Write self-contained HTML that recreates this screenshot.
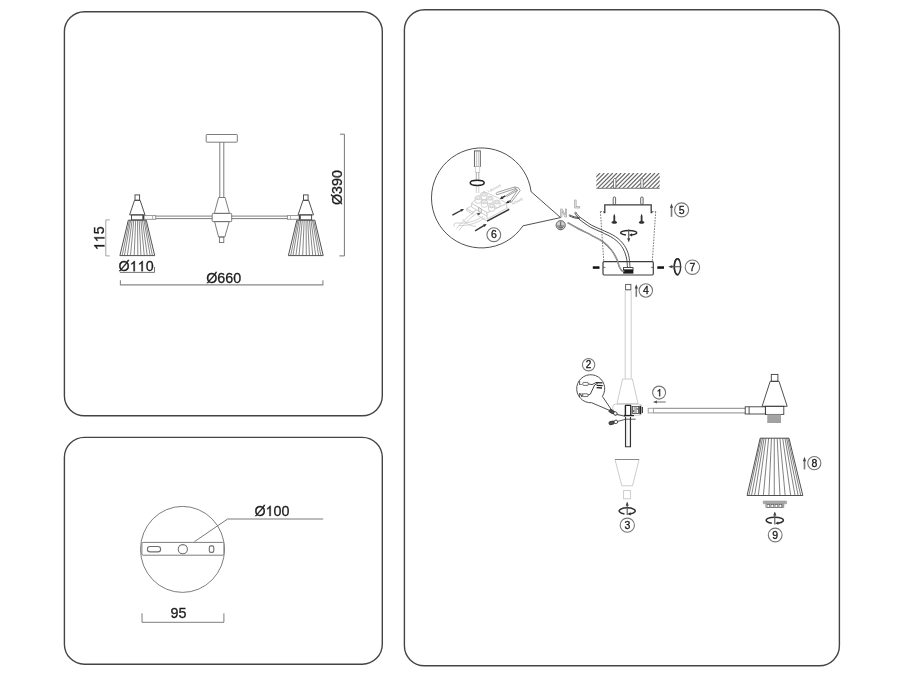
<!DOCTYPE html>
<html><head><meta charset="utf-8"><title>Assembly diagram</title>
<style>
html,body{margin:0;padding:0;background:#fff;}
body{width:900px;height:675px;overflow:hidden;font-family:"Liberation Sans",sans-serif;}
svg{display:block;}
</style></head><body>
<svg style="filter:grayscale(1)" width="900" height="675" viewBox="0 0 900 675">
<rect width="900" height="675" fill="#fff"/>
<!-- boxes -->
<g fill="none" stroke="#444" stroke-width="1.4">
<rect x="64.4" y="11.7" width="317.9" height="404.1" rx="20" ry="20"/>
<rect x="64.4" y="437.4" width="317.9" height="226.8" rx="20" ry="20"/>
<rect x="404.4" y="9.8" width="435" height="656" rx="20" ry="20"/>
</g>
<g fill="none" stroke="#6e6e6e" stroke-width="0.9">
<rect x="206.2" y="134.5" width="31.1" height="7.7" rx="0.6"/>
<path d="M219.8,142.2 V197.4 M223.8,142.2 V197.4"/>
<path d="M218.6,197.5 L225.1,197.5 L229.2,212.4 L229.2,213.4 L214.6,213.4 L214.6,212.4 Z"/>
<rect x="212.2" y="213.4" width="19.5" height="8.2" rx="0.8"/>
<path d="M214.6,221.6 L229.2,221.6 L224.8,237 L218.6,237 Z"/>
<rect x="219.4" y="237" width="4.4" height="5.5"/>
<path d="M155.7,216.1 H212.2 M155.7,218.6 H212.2 M231.7,216.1 H287.4 M231.7,218.6 H287.4"/>
<rect x="144" y="215.6" width="11.7" height="3.7" stroke="#8a8a8a"/><path d="M152.6,215.6 V219.3" stroke="#aaa"/>
<rect x="287.4" y="215.6" width="11.7" height="3.7" stroke="#8a8a8a"/><path d="M290.5,215.6 V219.3" stroke="#aaa"/>
<rect x="142.6" y="215.2" width="1.5" height="4.4" fill="#333" stroke="none"/><rect x="299" y="215.2" width="1.5" height="4.4" fill="#333" stroke="none"/>
</g>
<g transform="translate(137.3,0)" fill="none" stroke="#484848" stroke-width="0.95"><rect x="-2.3" y="194.9" width="4.6" height="5.4"/><path d="M-2.8,200.3 L2.8,200.3 L7.7,214.9 L-7.7,214.9 Z"/><rect x="-5.8" y="214.9" width="11.6" height="5"/><path d="M-9,220.2 L9,220.2 L17.4,255.6 L-17.4,255.6 Z"/><g stroke-width="0.7" stroke="#555"><path d="M-7.83,220.2 L-15.14,255.6"/><path d="M-6.66,220.2 L-12.88,255.6"/><path d="M-5.13,220.2 L-9.92,255.6"/><path d="M-3.51,220.2 L-6.79,255.6"/><path d="M-1.62,220.2 L-3.13,255.6"/><path d="M0.27,220.2 L0.52,255.6"/><path d="M1.89,220.2 L3.65,255.6"/><path d="M3.60,220.2 L6.96,255.6"/><path d="M5.13,220.2 L9.92,255.6"/><path d="M6.66,220.2 L12.88,255.6"/><path d="M7.83,220.2 L15.14,255.6"/></g></g>
<g transform="translate(305.8,0)" fill="none" stroke="#484848" stroke-width="0.95"><rect x="-2.3" y="194.9" width="4.6" height="5.4"/><path d="M-2.8,200.3 L2.8,200.3 L7.7,214.9 L-7.7,214.9 Z"/><rect x="-5.8" y="214.9" width="11.6" height="5"/><path d="M-9,220.2 L9,220.2 L17.4,255.6 L-17.4,255.6 Z"/><g stroke-width="0.7" stroke="#555"><path d="M-7.83,220.2 L-15.14,255.6"/><path d="M-6.66,220.2 L-12.88,255.6"/><path d="M-5.13,220.2 L-9.92,255.6"/><path d="M-3.51,220.2 L-6.79,255.6"/><path d="M-1.62,220.2 L-3.13,255.6"/><path d="M0.27,220.2 L0.52,255.6"/><path d="M1.89,220.2 L3.65,255.6"/><path d="M3.60,220.2 L6.96,255.6"/><path d="M5.13,220.2 L9.92,255.6"/><path d="M6.66,220.2 L12.88,255.6"/><path d="M7.83,220.2 L15.14,255.6"/></g></g>
<g fill="none" stroke="#666" stroke-width="0.9">
<path d="M340,134.2 H344.4 V255.9 H339.4"/>
<path d="M109.8,219.9 H105.8 V255.9 H109.8" stroke="#9a9a9a"/>
<path d="M119.9,272.4 H154.5 V267"/>
<path d="M120.4,280.2 V284.9 H322.9 V280.2" stroke="#888" stroke-width="1.1"/>
</g>
<g font-family="'Liberation Sans', sans-serif" font-size="14.3px" fill="#1c1c1c" stroke="#1c1c1c" stroke-width="0.3">
<text x="118.6" y="271.2">Ø</text>
<path transform="translate(129.73,271.20) rotate(0) scale(14.3)" d="M0.355,0 L0.267,0 L0.267,-0.56 C0.23,-0.525 0.17,-0.485 0.109,-0.46 L0.109,-0.545 C0.19,-0.585 0.27,-0.65 0.298,-0.716 L0.355,-0.716 Z" fill="#1c1c1c" stroke="#1c1c1c" stroke-width="0.0210"/>
<path transform="translate(137.68,271.20) rotate(0) scale(14.3)" d="M0.355,0 L0.267,0 L0.267,-0.56 C0.23,-0.525 0.17,-0.485 0.109,-0.46 L0.109,-0.545 C0.19,-0.585 0.27,-0.65 0.298,-0.716 L0.355,-0.716 Z" fill="#1c1c1c" stroke="#1c1c1c" stroke-width="0.0210"/>
<text x="145.63" y="271.2">0</text>
<text x="206.2" y="283">Ø660</text>
<text transform="translate(342,205) rotate(-90)">Ø390</text>
<path transform="translate(104.40,250.20) rotate(-90) scale(14.3)" d="M0.355,0 L0.267,0 L0.267,-0.56 C0.23,-0.525 0.17,-0.485 0.109,-0.46 L0.109,-0.545 C0.19,-0.585 0.27,-0.65 0.298,-0.716 L0.355,-0.716 Z" fill="#1c1c1c" stroke="#1c1c1c" stroke-width="0.0210"/>
<path transform="translate(104.40,242.25) rotate(-90) scale(14.3)" d="M0.355,0 L0.267,0 L0.267,-0.56 C0.23,-0.525 0.17,-0.485 0.109,-0.46 L0.109,-0.545 C0.19,-0.585 0.27,-0.65 0.298,-0.716 L0.355,-0.716 Z" fill="#1c1c1c" stroke="#1c1c1c" stroke-width="0.0210"/>
<text transform="translate(104.4,234.30) rotate(-90)">5</text>
<text x="254.5" y="516">Ø</text>
<path transform="translate(265.63,516.00) rotate(0) scale(14.3)" d="M0.355,0 L0.267,0 L0.267,-0.56 C0.23,-0.525 0.17,-0.485 0.109,-0.46 L0.109,-0.545 C0.19,-0.585 0.27,-0.65 0.298,-0.716 L0.355,-0.716 Z" fill="#1c1c1c" stroke="#1c1c1c" stroke-width="0.0210"/>
<text x="273.58" y="516">00</text>
<text x="170.6" y="618">95</text>
</g>
<g fill="none" stroke="#6e6e6e" stroke-width="0.9">
<ellipse cx="182.5" cy="549.4" rx="42" ry="43"/>
<rect x="141.9" y="542.4" width="82" height="12.8" rx="1.2" fill="#fff"/>
<rect x="147.4" y="546.5" width="13.2" height="5.4" rx="2.7" stroke-width="1.1"/>
<circle cx="182.8" cy="549.2" r="4.6" stroke-width="1.05"/>
<rect x="209.3" y="545.9" width="4.5" height="6.5" rx="1.7" stroke-width="1.1"/>
<path d="M194.4,541.7 L227.6,519 H323.2" stroke="#7a7a7a" stroke-width="1"/>
<path d="M142,613.3 V622.3 H223.9 V613.3"/>
</g>
<g>
<clipPath id="hc"><rect x="596.3" y="173" width="63.4" height="15.3"/></clipPath>
<g clip-path="url(#hc)" stroke="#666" stroke-width="1.15"><path d="M580.6,188.3 l15.3,-15.3"/><path d="M584.8,188.3 l15.3,-15.3"/><path d="M589.0,188.3 l15.3,-15.3"/><path d="M593.3,188.3 l15.3,-15.3"/><path d="M597.5,188.3 l15.3,-15.3"/><path d="M601.7,188.3 l15.3,-15.3"/><path d="M605.9,188.3 l15.3,-15.3"/><path d="M610.1,188.3 l15.3,-15.3"/><path d="M614.4,188.3 l15.3,-15.3"/><path d="M618.6,188.3 l15.3,-15.3"/><path d="M622.8,188.3 l15.3,-15.3"/><path d="M627.0,188.3 l15.3,-15.3"/><path d="M631.2,188.3 l15.3,-15.3"/><path d="M635.5,188.3 l15.3,-15.3"/><path d="M639.7,188.3 l15.3,-15.3"/><path d="M643.9,188.3 l15.3,-15.3"/><path d="M648.1,188.3 l15.3,-15.3"/><path d="M652.3,188.3 l15.3,-15.3"/><path d="M656.6,188.3 l15.3,-15.3"/><path d="M660.8,188.3 l15.3,-15.3"/><path d="M665.0,188.3 l15.3,-15.3"/><path d="M669.2,188.3 l15.3,-15.3"/></g>
<path d="M613.5,188.3 V179.4 L614.7,178.2 L615.9,179.4 V188.3 Z" fill="#fff" stroke="#555" stroke-width="0.7"/>
<path d="M640.8,188.3 V179.4 L642,178.2 L643.2,179.4 V188.3 Z" fill="#fff" stroke="#555" stroke-width="0.7"/>
<path d="M596.3,188.3 H659.7" stroke="#777" stroke-width="1"/>
</g>
<rect x="613.2" y="197" width="2.4" height="7.4" rx="1" fill="#fff" stroke="#3c3c3c" stroke-width="0.8"/>
<rect x="640.7" y="197" width="2.4" height="7.4" rx="1" fill="#fff" stroke="#3c3c3c" stroke-width="0.8"/>
<path d="M603.6,212.5 H604.8 V204.8 H651.2 V212.5 H652.4" fill="none" stroke="#3c3c3c" stroke-width="1.3"/>
<path d="M600.4,211.6 L603.8,261.5 M655.7,211.6 L652.3,261.5 M600.4,211.6 H604 M652,211.6 H655.7" fill="none" stroke="#555" stroke-width="0.8" stroke-dasharray="1.6,1.2"/>
<path d="M614.3,213.8 L615.1999999999999,216 L615.1999999999999,220.8 L617.0,222 L617.0,222.9 L615.5,223.7 L613.0999999999999,223.7 L611.5999999999999,222.9 L611.5999999999999,222 L613.4,220.8 L613.4,216 Z" fill="#333"/>
<path d="M641.6,213.8 L642.5,216 L642.5,220.8 L644.3000000000001,222 L644.3000000000001,222.9 L642.8000000000001,223.7 L640.4,223.7 L638.9,222.9 L638.9,222 L640.7,220.8 L640.7,216 Z" fill="#333"/>
<path d="M625.96,235.06 A8,2.4 0 1 1 631.44,235.06" fill="none" stroke="#2e2e2e" stroke-width="1.5"/><path d="M628.84,235.06 L632.04,233.36 L632.04,236.56 Z" fill="#2e2e2e"/><path d="M628.7,229.4 V241.4" stroke="#555" stroke-width="1.1"/><path d="M628.7,242.0 L627.1,238.20000000000002 L630.3000000000001,238.20000000000002 Z" fill="#444"/>
<rect x="603" y="261.6" width="50.3" height="13.4" rx="1.2" fill="none" stroke="#3c3c3c" stroke-width="1.2"/>
<path d="M603,267.4 H605.4 M650.9,267.4 H653.3" stroke="#555" stroke-width="0.8"/>
<rect x="592.8" y="266.3" width="6.7" height="2.5" fill="#111"/>
<rect x="657.3" y="266.3" width="6.7" height="2.5" fill="#111"/>
<rect x="623.6" y="267.6" width="9.4" height="2.2" fill="#fff" stroke="#222" stroke-width="0.8"/>
<rect x="623.2" y="269.8" width="10.2" height="3.8" fill="#1a1a1a"/>
<g fill="none" stroke="#3c3c3c" stroke-width="0.9">
<path d="M580.2,217.4 C582.1,218.7 587.8,223.0 591.6,225.2 C595.4,227.3 598.9,228.4 602.9,230.3 C606.9,232.2 611.9,234.1 615.5,236.6 C619.1,239.1 622.1,242.2 624.3,245.4 C626.5,248.6 627.8,251.8 628.7,255.5 C629.7,259.2 629.8,265.6 630.0,267.6"/><path d="M579.0,219.2 C580.9,220.5 586.5,224.9 590.3,227.1 C594.1,229.3 597.7,230.3 601.6,232.2 C605.5,234.1 610.2,236.1 613.6,238.5 C617.0,240.9 619.7,243.6 621.8,246.6 C623.9,249.6 625.2,253.2 626.2,256.7 C627.2,260.2 627.3,265.8 627.5,267.6"/>
<path d="M575.6,211.8 C576.4,213.6 578,215.6 580.2,217.4 M574.6,212.6 C575.6,214.6 577,216.8 579.4,218.4"/>
<path d="M568.8,215.6 C572,217.4 576,218.6 579.4,218.6 M569.4,214.8 C572.4,216.4 576,217.4 579.6,217.6"/>
<path d="M567.6,222.7 C569.5,223.8 575.0,226.9 579.0,229.0 C583.0,231.1 587.6,233.2 591.6,235.3 C595.6,237.4 599.5,239.1 602.9,241.6 C606.2,244.1 609.4,247.5 611.7,250.4 C614.0,253.3 615.5,256.5 616.8,259.2 C618.1,261.9 618.5,264.9 619.3,266.8 C620.1,268.7 621.0,269.9 621.8,270.6 C622.6,271.3 623.9,271.1 624.3,271.2" stroke-width="1.5" stroke="#666"/>
<path d="M567.6,222.7 C569.5,223.8 575.0,226.9 579.0,229.0 C583.0,231.1 587.6,233.2 591.6,235.3 C595.6,237.4 599.5,239.1 602.9,241.6 C606.2,244.1 609.4,247.5 611.7,250.4 C614.0,253.3 615.5,256.5 616.8,259.2 C618.1,261.9 618.5,264.9 619.3,266.8 C620.1,268.7 621.0,269.9 621.8,270.6 C622.6,271.3 623.9,271.1 624.3,271.2" stroke-width="0.5" stroke="#ddd"/>
</g>
<text x="574" y="208.2" font-family="'Liberation Sans', sans-serif" font-size="10px" font-weight="bold" fill="#e8e8e8" stroke="#8a8a8a" stroke-width="0.5">L</text>
<text x="560" y="217" font-family="'Liberation Sans', sans-serif" font-size="10px" font-weight="bold" fill="#e8e8e8" stroke="#8a8a8a" stroke-width="0.5">N</text>
<circle cx="560.7" cy="225.2" r="4.6" fill="#d0d0d0" stroke="#666" stroke-width="1"/>
<path d="M560.7,221.4 V226 M557.2,226 H564.2 M558.4,227.6 H563 M559.6,229 H561.8" stroke="#555" stroke-width="0.9" fill="none"/>
<path d="M671.5,216.8 V206.9" stroke="#7a7a7a" stroke-width="1.6" fill="none"/><path d="M671.5,203.4 L669.9,207.8 L673.1,207.8 Z" fill="#444"/>
<circle cx="681.6" cy="209.9" r="7" fill="#fff" stroke="#777" stroke-width="1.1"/><text x="681.6" y="213.68" text-anchor="middle" font-family="'Liberation Sans', sans-serif" font-size="10.5px" fill="#1a1a1a" stroke="#1a1a1a" stroke-width="0.3">5</text>
<path d="M678.4,274.4 A3.2,8 0 1 1 679.6,260.6" fill="none" stroke="#2e2e2e" stroke-width="1.5" transform="rotate(0)"/>
<ellipse cx="677.4" cy="266.7" rx="3.2" ry="8" fill="none" stroke="#2e2e2e" stroke-width="1.4"/>
<path d="M671.5,266.7 H681.4" stroke="#555" stroke-width="1.1"/><path d="M668.2,266.7 L672.4,265.1 L672.4,268.3 Z" fill="#444"/>
<circle cx="692.4" cy="267.2" r="7.2" fill="#fff" stroke="#777" stroke-width="1.1"/><text x="692.4" y="270.98" text-anchor="middle" font-family="'Liberation Sans', sans-serif" font-size="10.5px" fill="#1a1a1a" stroke="#1a1a1a" stroke-width="0.3">7</text>
<rect x="625.6" y="284.4" width="5.3" height="5.3" fill="none" stroke="#555" stroke-width="0.9"/>
<path d="M625.2,290.6 V378.4 M631.2,290.6 V378.4 M625.2,290.6 H631.2" fill="none" stroke="#c6c6c6" stroke-width="0.9"/>
<path d="M636.3,296.8 V287.7" stroke="#7a7a7a" stroke-width="1.6" fill="none"/><path d="M636.3,284.2 L634.6999999999999,288.59999999999997 L637.9,288.59999999999997 Z" fill="#444"/>
<circle cx="645.8" cy="290.5" r="6.7" fill="#fff" stroke="#777" stroke-width="1.1"/><text x="645.8" y="294.28" text-anchor="middle" font-family="'Liberation Sans', sans-serif" font-size="10.5px" fill="#1a1a1a" stroke="#1a1a1a" stroke-width="0.3">4</text>
<g fill="none" stroke="#c6c6c6" stroke-width="0.9">
<path d="M622.6,379 H632.4 L638,403.6 H617 Z"/>
<rect x="612.9" y="404.2" width="29" height="11" rx="2.5"/>
</g>
<g fill="none" stroke="#222" stroke-width="1">
<path d="M625,405.4 H631 M625.4,405.4 V416 M630.8,405.4 V416" stroke-width="1.4"/>
<rect x="632.4" y="406.4" width="6.2" height="7" stroke-width="0.8" stroke="#444"/>
<path d="M633.6,408 h3.6 v2 h-3.6 v2 h3.6" stroke-width="0.8" stroke="#444"/>
<path d="M640.2,405.8 V414.2" stroke-width="1.8"/><path d="M642.3,407 V413" stroke-width="1.1"/>
<path d="M624,415.6 H634" stroke-width="1.3"/>
</g>
<path d="M625.5,417 V446.7 H630.5 V417" fill="none" stroke="#333" stroke-width="1.1"/><path d="M626.9,419 V446 M629.5,419 V446" fill="none" stroke="#c4c4c4" stroke-width="0.6"/>
<g stroke="#222" stroke-width="0.8">
<g transform="translate(613.3,412.4) rotate(28)"><rect x="-4.4" y="-1.5" width="5" height="3" rx="1" fill="#555"/><rect x="0.6" y="-1.6" width="3.4" height="3.2" rx="1.2" fill="#fff"/></g>
<g transform="translate(613.6,422.4) rotate(-14)"><rect x="-4.6" y="-1.5" width="5.2" height="3" rx="1" fill="#555"/><rect x="0.6" y="-1.6" width="3.4" height="3.2" rx="1.2" fill="#fff"/></g>
<path d="M617,414.4 L625.4,416.4 M617.6,421.4 L625.8,419.2 H635.6" fill="none" stroke="#333" stroke-width="0.8"/>
</g>
<path d="M602.4,396.4 A14,14 0 1 0 591.6,402.7 L612.8,411.8 Z" fill="none" stroke="#3c3c3c" stroke-width="0.9"/>
<circle cx="588.6" cy="364.7" r="6.2" fill="#fff" stroke="#777" stroke-width="1.1"/><text x="588.6" y="368.30" text-anchor="middle" font-family="'Liberation Sans', sans-serif" font-size="10px" fill="#1a1a1a" stroke="#1a1a1a" stroke-width="0.3">2</text>
<text x="579" y="384.9" font-family="'Liberation Sans', sans-serif" font-size="5.2px" font-weight="bold" fill="#222">L</text>
<text x="579" y="396.8" font-family="'Liberation Sans', sans-serif" font-size="5.2px" font-weight="bold" fill="#222">N</text>
<g fill="none" stroke="#333" stroke-width="0.7">
<rect x="582.8" y="382.4" width="5.4" height="3" rx="0.8"/><rect x="582.8" y="393.8" width="5.2" height="2.8" rx="0.8"/>
<path d="M588.2,383.9 L592,384.6 L596,382.6 M588,395.2 L590.4,394 L594.6,385 L597.6,383.4" stroke-width="0.9"/>
<path d="M596,382.6 L602.4,382.8 M596.6,385.4 L602.6,385.6 M596.6,387.6 L602,388" stroke="#222" stroke-width="1.3"/>
</g>
<circle cx="659.1" cy="392.6" r="6.5" fill="#fff" stroke="#777" stroke-width="1.1"/><path transform="translate(656.60,396.20) scale(10)" d="M0.355,0 L0.267,0 L0.267,-0.56 C0.23,-0.525 0.17,-0.485 0.109,-0.46 L0.109,-0.545 C0.19,-0.585 0.27,-0.65 0.298,-0.716 L0.355,-0.716 Z" fill="#1a1a1a" stroke="#1a1a1a" stroke-width="0.0300"/>
<path d="M655,402 H665.7" stroke="#888" stroke-width="1.2"/><path d="M652.8,402 L657,400.5 L657,403.5 Z" fill="#555"/>
<path d="M653.3,408.3 H745.2" stroke="#777" stroke-width="0.9" fill="none"/>
<path d="M653.3,412.9 H745.2" stroke="#a2a2a2" stroke-width="1.1" fill="none"/>
<rect x="648.2" y="408.3" width="5.2" height="4.6" fill="none" stroke="#999" stroke-width="0.9"/>
<g fill="none" stroke="#3c3c3c" stroke-width="0.9">
<rect x="745.2" y="406.8" width="20.2" height="7.2"/><path d="M749.1,406.8 V414"/>
<rect x="771.3" y="374.4" width="6.6" height="6.9"/>
<path d="M770.2,381.3 H779 L787.2,406.3 H762.1 Z"/>
<rect x="765.4" y="406.3" width="18.4" height="8.1"/>
</g>
<rect x="767.3" y="414.6" width="13.7" height="8.4" fill="#d4d4d4"/><g stroke="#777" stroke-width="0.55"><path d="M767.3,414.90 H781"/><path d="M767.3,415.85 H781"/><path d="M767.3,416.80 H781"/><path d="M767.3,417.75 H781"/><path d="M767.3,418.70 H781"/><path d="M767.3,419.65 H781"/><path d="M767.3,420.60 H781"/><path d="M767.3,421.55 H781"/><path d="M767.3,422.50 H781"/></g>
<g fill="none" stroke="#3c3c3c" stroke-width="0.9"><path d="M760.2,438.2 H789 L802.8,495.5 H747.1 Z"/><g stroke-width="0.7" stroke="#4a4a4a"><path d="M761.14,438.2 L748.91,495.3"/><path d="M762.50,438.2 L751.56,495.3"/><path d="M764.09,438.2 L754.62,495.3"/><path d="M765.96,438.2 L758.24,495.3"/><path d="M768.62,438.2 L763.39,495.3"/><path d="M771.46,438.2 L768.88,495.3"/><path d="M774.25,438.2 L774.28,495.3"/><path d="M777.19,438.2 L779.96,495.3"/><path d="M779.88,438.2 L785.17,495.3"/><path d="M782.72,438.2 L790.66,495.3"/><path d="M784.97,438.2 L795.00,495.3"/><path d="M786.58,438.2 L798.12,495.3"/><path d="M787.92,438.2 L800.71,495.3"/></g></g>
<path d="M804.5,469.4 V460.3" stroke="#7a7a7a" stroke-width="1.6" fill="none"/><path d="M804.5,456.8 L802.9,461.2 L806.1,461.2 Z" fill="#444"/>
<circle cx="814.3" cy="463.1" r="6.6" fill="#fff" stroke="#777" stroke-width="1.1"/><text x="814.3" y="466.88" text-anchor="middle" font-family="'Liberation Sans', sans-serif" font-size="10.5px" fill="#1a1a1a" stroke="#1a1a1a" stroke-width="0.3">8</text>
<rect x="763.1" y="501" width="23.6" height="2.8" rx="0.8" fill="#aaa" stroke="#888" stroke-width="0.5"/>
<rect x="765.8" y="503.8" width="18.1" height="3.8" fill="#e6e6e6" stroke="#888" stroke-width="0.6"/>
<rect x="767" y="504.4" width="2.8" height="2.9" fill="#fff" stroke="#555" stroke-width="0.7"/>
<rect x="771" y="504.4" width="2.8" height="2.9" fill="#fff" stroke="#555" stroke-width="0.7"/>
<rect x="775" y="504.4" width="2.8" height="2.9" fill="#fff" stroke="#555" stroke-width="0.7"/>
<rect x="779" y="504.4" width="2.8" height="2.9" fill="#fff" stroke="#555" stroke-width="0.7"/>
<path d="M782.9,504.2 V507.4" stroke="#555" stroke-width="0.8"/>
<path d="M771.86,523.21 A8.6,3.1 0 1 1 777.74,523.21" fill="none" stroke="#2e2e2e" stroke-width="1.5"/><path d="M775.14,523.21 L778.34,521.51 L778.34,524.71 Z" fill="#2e2e2e"/><path d="M774.8,512.4 V524.4" stroke="#555" stroke-width="1.1"/><path d="M774.8,511.79999999999995 L773.1999999999999,515.6 L776.4,515.6 Z" fill="#444"/>
<circle cx="775.2" cy="535" r="6.9" fill="#fff" stroke="#777" stroke-width="1.1"/><text x="775.2" y="538.78" text-anchor="middle" font-family="'Liberation Sans', sans-serif" font-size="10.5px" fill="#1a1a1a" stroke="#1a1a1a" stroke-width="0.3">9</text>
<path d="M615,459.5 L621.8,485.8 H632.5 L639.1,459.5" fill="none" stroke="#c6c6c6" stroke-width="0.9"/>
<path d="M615,459.5 H639.1" stroke="#888" stroke-width="1"/>
<rect x="623.6" y="490.6" width="6.8" height="8.2" fill="none" stroke="#c6c6c6" stroke-width="0.9"/>
<path d="M624.46,514.01 A8,3.2 0 1 1 629.94,514.01" fill="none" stroke="#2e2e2e" stroke-width="1.5"/><path d="M627.34,514.01 L630.54,512.31 L630.54,515.51 Z" fill="#2e2e2e"/><path d="M627.2,502.6 V515" stroke="#555" stroke-width="1.1"/><path d="M627.2,502.0 L625.6,505.8 L628.8000000000001,505.8 Z" fill="#444"/>
<circle cx="627.3" cy="525.2" r="7.1" fill="#fff" stroke="#777" stroke-width="1.1"/><text x="627.3" y="528.98" text-anchor="middle" font-family="'Liberation Sans', sans-serif" font-size="10.5px" fill="#1a1a1a" stroke="#1a1a1a" stroke-width="0.3">3</text>
<path d="M531.1,191.7 A50,50 0 1 0 523.0,225.8 L560.6,217.6 Z" fill="none" stroke="#3c3c3c" stroke-width="0.9"/>
<circle cx="493.8" cy="234.7" r="6.9" fill="#fff" stroke="#777" stroke-width="1.1"/><text x="493.8" y="238.48" text-anchor="middle" font-family="'Liberation Sans', sans-serif" font-size="10.5px" fill="#1a1a1a" stroke="#1a1a1a" stroke-width="0.3">6</text>
<rect x="474.4" y="150.9" width="5.9" height="15.6" fill="none" stroke="#555" stroke-width="0.9"/>
<path d="M476.4,151 V166.4 M478.3,151 V166.4" stroke="#888" stroke-width="0.5"/>
<rect x="475.3" y="166.5" width="4.4" height="5.9" fill="none" stroke="#c6c6c6" stroke-width="0.8"/>
<path d="M476.3,172.4 V180 M478.8,172.4 V180" stroke="#999" stroke-width="0.8"/>
<path d="M476.3,185.6 V193 M478.8,185.6 V193" stroke="#c6c6c6" stroke-width="0.8"/>
<ellipse cx="477.2" cy="182.8" rx="7" ry="2.6" fill="none" stroke="#222" stroke-width="1.5"/>
<g fill="#fff" stroke="#c6c6c6" stroke-width="0.8">
<path d="M477.3,215.1 L487.1,221.1 L509.2,209.2 L500.0,203.3 Z"/>
<path d="M466.7,208.6 L471.3,206.2 L477.3,209.5 L472.7,212.2 Z"/>
<path d="M466.7,208.6 L472.7,212.2 L472.7,214.2 L466.7,210.7 Z"/>
<path d="M471.6,203.3 L471.6,207.1 L478.7,211.1 L478.7,207.4 Z"/>
<path d="M478.7,207.4 L478.7,211.1 L487.1,216.4 L487.1,212.7 Z"/>
<path d="M487.1,212.7 L487.1,219.1 L506.7,208.3 L506.7,203.3 Z"/>
<path d="M471.6,203.3 L478.7,207.4 L487.1,212.7 L506.7,203.3 L497.8,197.8 L483.6,191.4 Z"/>
<path d="M478.7,207.4 L478.7,211.1 L481.3,212.7 L481.3,209.0 Z" stroke="#aaa"/>
<path d="M480.9,194.2 V197.79999999999998 A3.1,1.9 0 0 0 487.1,197.79999999999998 V194.2"/>
<ellipse cx="484" cy="194.2" rx="3.1" ry="1.9"/><ellipse cx="484" cy="194.2" rx="1.8" ry="1" stroke="#ccc"/>
<path d="M475.09999999999997,197.8 V201.4 A3.1,1.9 0 0 0 481.3,201.4 V197.8"/>
<ellipse cx="478.2" cy="197.8" rx="3.1" ry="1.9"/><ellipse cx="478.2" cy="197.8" rx="1.8" ry="1" stroke="#ccc"/>
<path d="M486.7,198.2 V201.79999999999998 A3.1,1.9 0 0 0 492.90000000000003,201.79999999999998 V198.2"/>
<ellipse cx="489.8" cy="198.2" rx="3.1" ry="1.9"/><ellipse cx="489.8" cy="198.2" rx="1.8" ry="1" stroke="#ccc"/>
<path d="M481.29999999999995,201.8 V205.4 A3.1,1.9 0 0 0 487.5,205.4 V201.8"/>
<ellipse cx="484.4" cy="201.8" rx="3.1" ry="1.9"/><ellipse cx="484.4" cy="201.8" rx="1.8" ry="1" stroke="#ccc"/>
<path d="M493.79999999999995,202 V205.6 A3.1,1.9 0 0 0 500.0,205.6 V202"/>
<ellipse cx="496.9" cy="202" rx="3.1" ry="1.9"/><ellipse cx="496.9" cy="202" rx="1.8" ry="1" stroke="#ccc"/>
<path d="M488.5,205.8 V209.4 A3.1,1.9 0 0 0 494.70000000000005,209.4 V205.8"/>
<ellipse cx="491.6" cy="205.8" rx="3.1" ry="1.9"/><ellipse cx="491.6" cy="205.8" rx="1.8" ry="1" stroke="#ccc"/>
</g>
<path d="M487.1,221.2 L509.2,209.3" stroke="#333" stroke-width="1.5"/>
<ellipse cx="478.6" cy="213.8" rx="1.6" ry="1.1" fill="#555"/>
<path d="M452.4,215.1 L461.0,210.5" stroke="#333" stroke-width="1.4"/><path d="M464.0,208.9 L461.7,211.8 L460.3,209.2 Z" fill="#222"/>
<path d="M475.1,230.8 L483.8,225.7" stroke="#333" stroke-width="1.4"/><path d="M486.7,224.0 L484.5,227.0 L483.0,224.4 Z" fill="#222"/>
<path d="M505.4,195.8 L502.7,197.4" stroke="#333" stroke-width="1.4"/><path d="M499.8,199.1 L502.0,196.1 L503.5,198.7 Z" fill="#222"/>
<path d="M511.0,200.5 L508.8,201.7" stroke="#333" stroke-width="1.4"/><path d="M505.8,203.3 L508.1,200.4 L509.5,203.0 Z" fill="#222"/>
<g fill="none" stroke="#777" stroke-width="0.7">
<path d="M496.6,194.6 C495.8,193.8 496,192.8 497.2,192.4 L514.6,187 L515.4,188.6 L498,194.4 C497.4,194.6 497,194.8 496.6,194.6 Z"/>
<path d="M514.6,187 L518.4,187.8 L520.2,190.6 L511,202.6 L509.6,201.8 L517.6,190.2 L515.4,188.6"/>
<path d="M516.4,189.2 L505.6,195.8 M517.4,190.2 L506.4,196.8"/>
</g>
<g fill="none" stroke="#c6c6c6" stroke-width="0.8">
<path d="M474.8,211.6 C468,216 462,222 456.4,228.6 M477,213 C470,218 464,224 459,230.4"/>
<path d="M483,216.4 C474,222 466,223.6 458,223 C454,222.6 452.6,225 455,226.6 M485,217.8 C476,224 466,226 458.6,225.6"/>
<path d="M462.6,219 C466,224 470,226 476,226.4"/>
</g>
<text transform="translate(488.6,192.6) rotate(-27)" font-family="'Liberation Sans', sans-serif" font-size="3.6px" fill="#aaa">L(brown)</text>
<text transform="translate(512.6,205) rotate(-27)" font-family="'Liberation Sans', sans-serif" font-size="3.6px" fill="#aaa">N(blue)</text>
</svg>
</body></html>
